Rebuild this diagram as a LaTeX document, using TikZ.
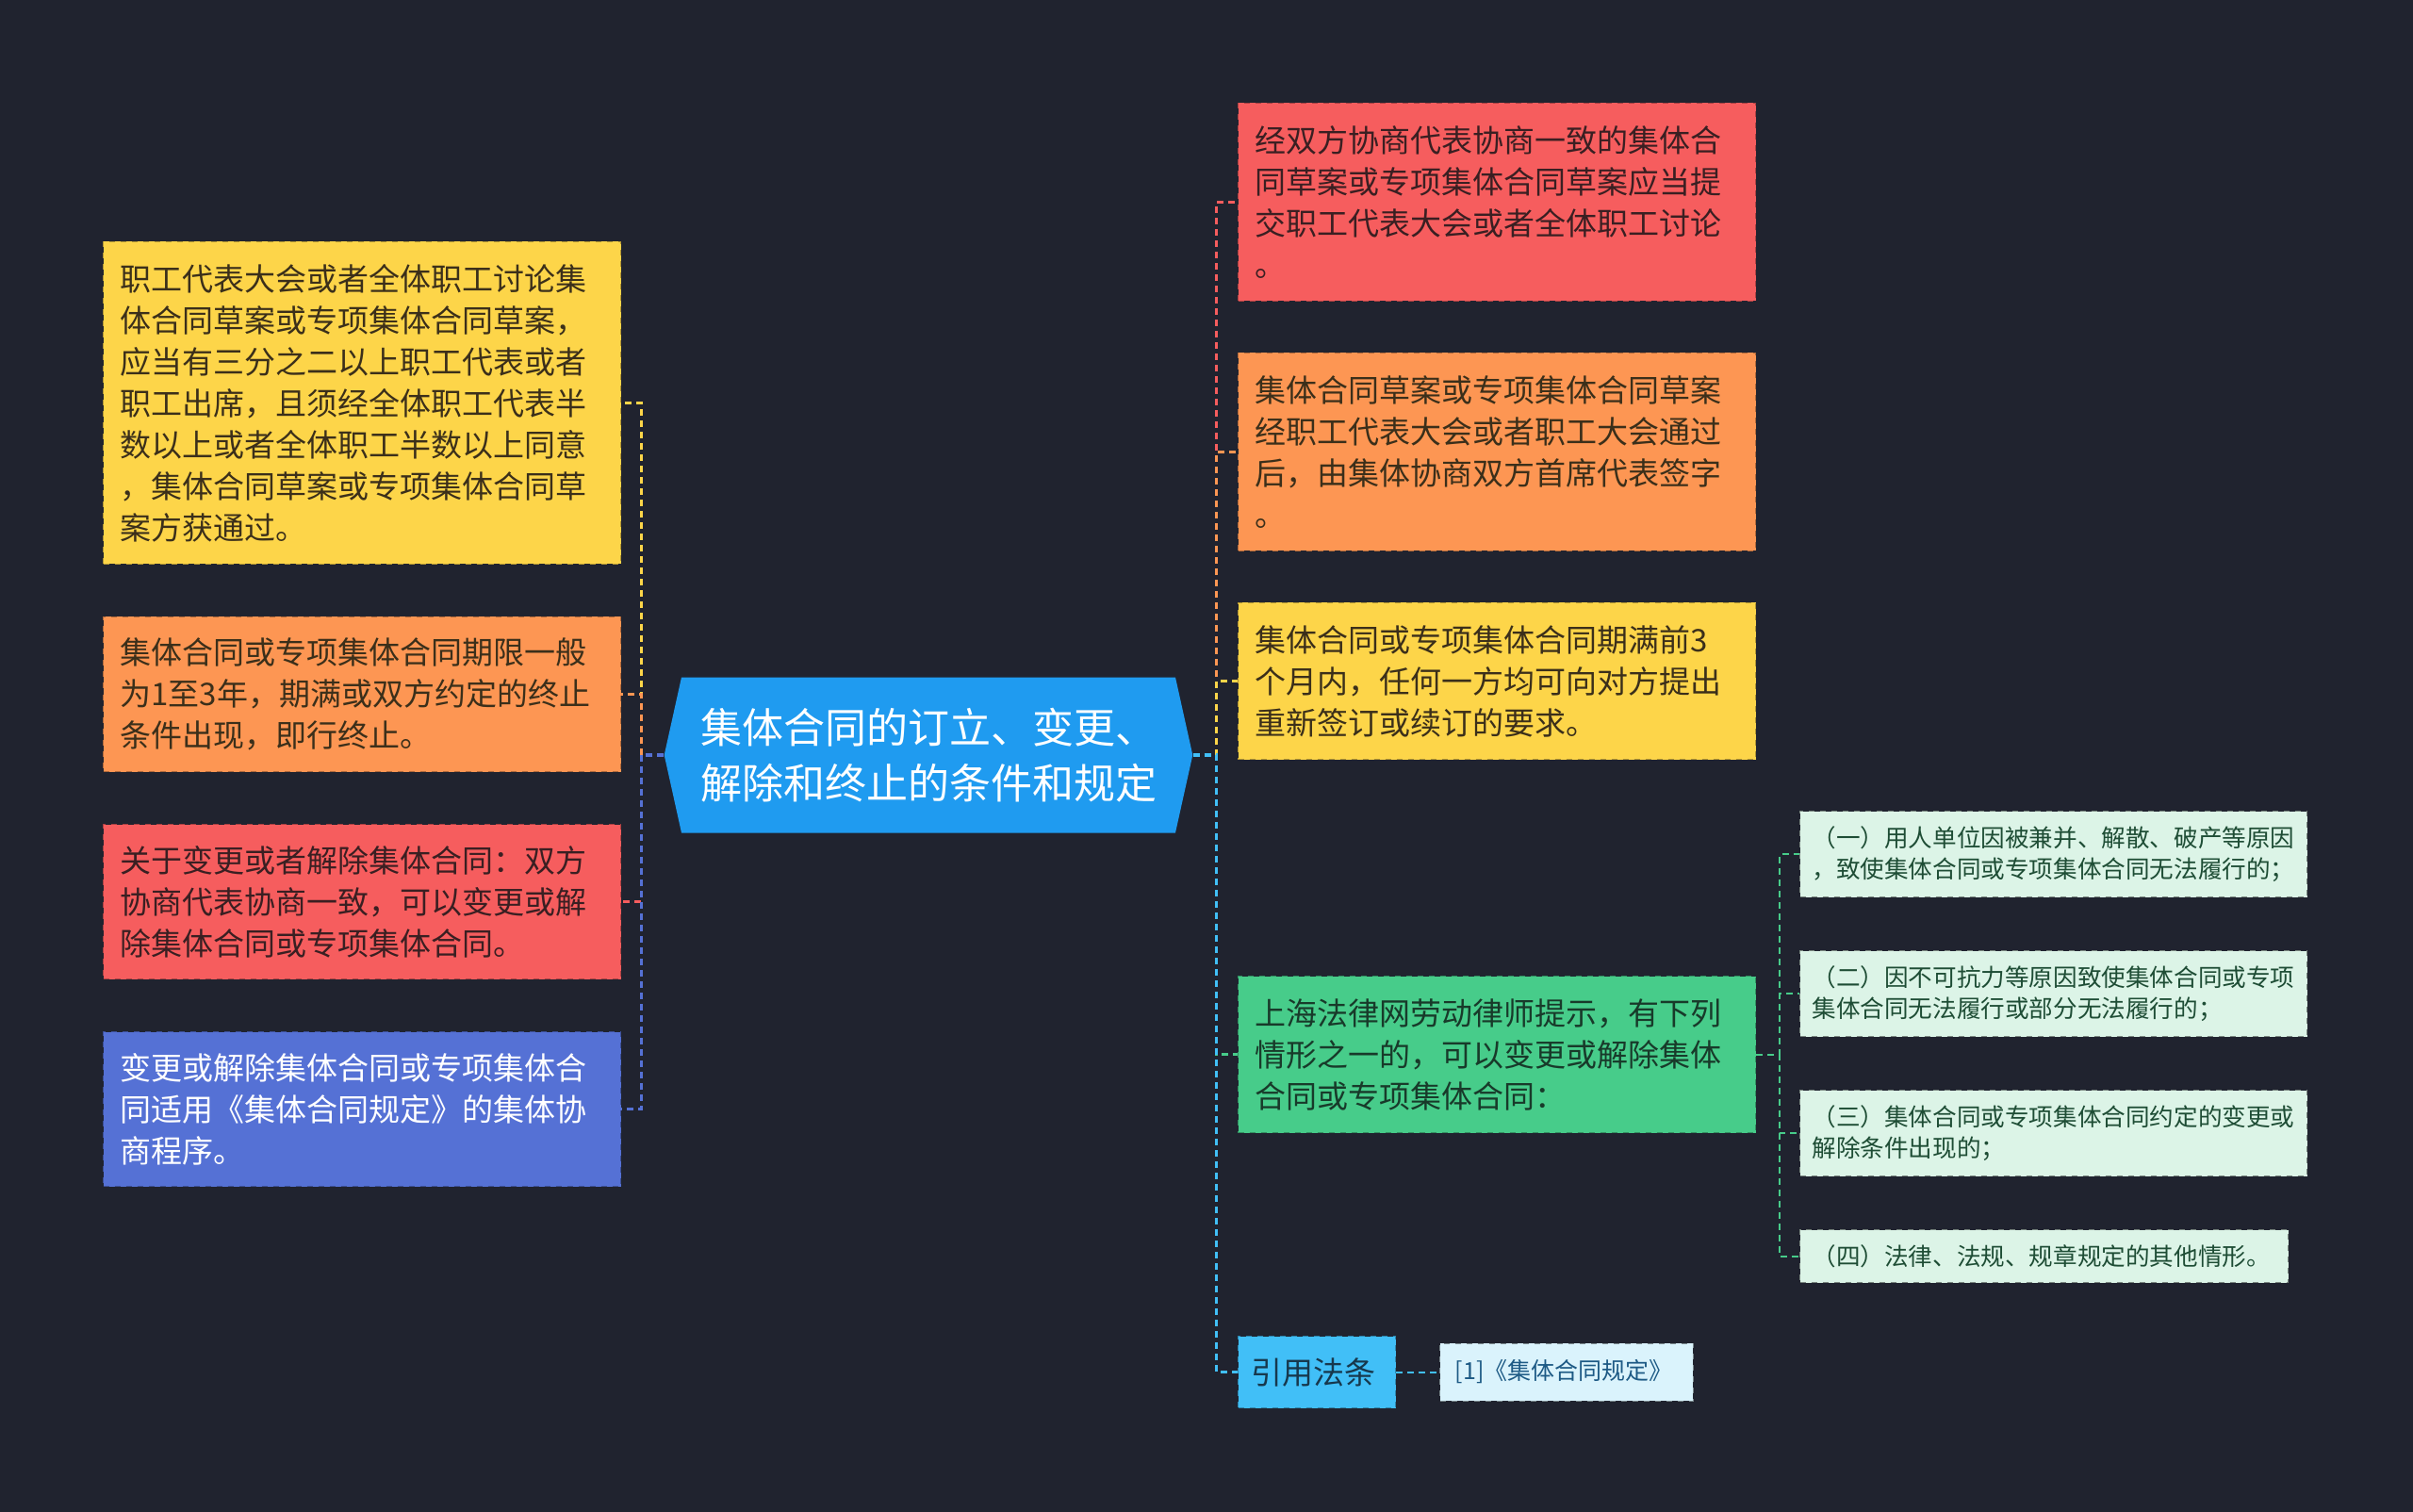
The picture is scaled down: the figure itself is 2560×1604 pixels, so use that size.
\documentclass[tikz,border=0pt]{standalone}
\usepackage{fontspec}
\setmainfont{Noto Sans CJK SC}
\usetikzlibrary{positioning,shapes.symbols}

\definecolor{bg}{HTML}{20232F}
\definecolor{cyel}{HTML}{FDD549}
\definecolor{cora}{HTML}{FD9653}
\definecolor{cred}{HTML}{F65D5E}
\definecolor{cpur}{HTML}{5571D5}
\definecolor{croot}{HTML}{1F9BF0}
\definecolor{cgrn}{HTML}{47CC8A}
\definecolor{csky}{HTML}{41BFF7}
\definecolor{cleaf}{HTML}{DCF4E7}
\definecolor{cref}{HTML}{DAF3FC}
\definecolor{tbrown}{HTML}{3B2F1A}
\definecolor{tred}{HTML}{3A1F22}
\definecolor{tgrn}{HTML}{183A2A}
\definecolor{tleaf}{HTML}{1E4D35}
\definecolor{tsky}{HTML}{17384D}
\definecolor{tref}{HTML}{1D5A85}

\begin{document}
\begin{tikzpicture}[x = 0.5pt, y = -0.5pt,
    every node/.style = { align = left, dashed, line width = .5pt },
    box/.style = { fill = #1, draw = #1!70!black, minimum width = 274.5pt, text width = 256.5pt,
                   inner xsep = 9pt, font = \fontsize{16.5pt}{22pt}\selectfont },
    leaf/.style = { fill = cleaf, draw = cleaf!55!black, text = tleaf, inner xsep = 6.5pt,
                    inner ysep = 8pt, font = \fontsize{12.8pt}{16.5pt}\selectfont },
    link/.style = { line width = 1.6pt, dash pattern = on 3.5pt off 2.5pt }
  ]
    \fill[bg] (0,0) rectangle (2560,1604);
    \useasboundingbox (0,0) rectangle (2560,1604);

    \node [signal, signal to = west and east, signal pointer angle = 155, fill = croot, text = white,
           minimum width = 280pt, minimum height = 82.5pt, inner xsep = 10pt,
           font = \fontsize{22pt}{29.5pt}\selectfont, solid] (root) at (985,801)
      { 集体合同的订立、变更、\\解除和终止的条件和规定 };

    % left side
    \node [box = cyel, text = tbrown, minimum height = 171pt, anchor = north west] (zhigong) at (109,256)
      { 职工代表大会或者全体职工讨论集\\体合同草案或专项集体合同草案，\\应当有三分之二以上职工代表或者\\职工出席，且须经全体职工代表半\\数以上或者全体职工半数以上同意\\，集体合同草案或专项集体合同草\\案方获通过。 };
    \node [box = cora, text = tbrown, minimum height = 82pt, below = 27.5pt of zhigong] (qixian)
      { 集体合同或专项集体合同期限一般\\为1至3年，期满或双方约定的终止\\条件出现，即行终止。 };
    \node [box = cred, text = tred, minimum height = 82pt, below = 27.5pt of qixian] (biangeng)
      { 关于变更或者解除集体合同：双方\\协商代表协商一致，可以变更或解\\除集体合同或专项集体合同。 };
    \node [box = cpur, text = white, minimum height = 82pt, below = 27.5pt of biangeng] (chengxu)
      { 变更或解除集体合同或专项集体合\\同适用《集体合同规定》的集体协\\商程序。 };

    % right side
    \node [box = cred, text = tred, minimum height = 105pt, anchor = north west] (taolun) at (1313,109)
      { 经双方协商代表协商一致的集体合\\同草案或专项集体合同草案应当提\\交职工代表大会或者全体职工讨论\\。 };
    \node [box = cora, text = tbrown, minimum height = 105pt, below = 27pt of taolun] (qianzi)
      { 集体合同草案或专项集体合同草案\\经职工代表大会或者职工大会通过\\后，由集体协商双方首席代表签字\\。 };
    \node [box = cyel, text = tbrown, minimum height = 83pt, below = 27pt of qianzi] (xuding)
      { 集体合同或专项集体合同期满前3\\个月内，任何一方均可向对方提出\\重新签订或续订的要求。 };
    \node [box = cgrn, text = tgrn, minimum height = 83pt, below = 114.5pt of xuding] (tishi)
      { 上海法律网劳动律师提示，有下列\\情形之一的，可以变更或解除集体\\合同或专项集体合同： };
    \node [fill = csky, draw = csky!70!black, text = tsky, inner xsep = 7pt, minimum height = 38pt,
           font = \fontsize{16.5pt}{22pt}\selectfont,
           below = 107.5pt of tishi.south west, anchor = north west] (yinyong) { 引用法条 };
    \node [fill = cref, draw = cref!55!black, text = tref, inner xsep = 8pt, minimum height = 30.5pt,
           font = \fontsize{12.5pt}{16pt}\selectfont, right = 23pt of yinyong] (guiding)
      { [1]《集体合同规定》 };

    % leaves of tishi
    \node [leaf, anchor = north west] (qing1) at (1909,860)
      { （一）用人单位因被兼并、解散、破产等原因\\，致使集体合同或专项集体合同无法履行的； };
    \node [leaf, below = 28pt of qing1.south west, anchor = north west] (qing2)
      { （二）因不可抗力等原因致使集体合同或专项\\集体合同无法履行或部分无法履行的； };
    \node [leaf, below = 28pt of qing2.south west, anchor = north west] (qing3)
      { （三）集体合同或专项集体合同约定的变更或\\解除条件出现的； };
    \node [leaf, below = 28pt of qing3.south west, anchor = north west] (qing4)
      { （四）法律、法规、规章规定的其他情形。 };

    % connectors
    \draw [link, cyel] (root.west) -- ++(-12pt,0) |- (zhigong.east);
    \draw [link, cora] (root.west) -- ++(-12pt,0) |- (qixian.east);
    \draw [link, cred] (root.west) -- ++(-12pt,0) |- (biangeng.east);
    \draw [link, cpur] (root.west) -- ++(-12pt,0) |- (chengxu.east);

    \draw [link, cred] (root.east) -- ++(12.5pt,0) |- (taolun.west);
    \draw [link, cora] (root.east) -- ++(12.5pt,0) |- (qianzi.west);
    \draw [link, cyel] (root.east) -- ++(12.5pt,0) |- (xuding.west);
    \draw [link, cgrn] (root.east) -- ++(12.5pt,0) |- (tishi.west);
    \draw [link, csky] (root.east) -- ++(12.5pt,0) |- (yinyong.west);

    \foreach \q in {qing1,qing2,qing3,qing4}
      \draw [link, cgrn, line width = 1pt] (tishi.east) -- ++(12.5pt,0) |- (\q.west);
    \draw [link, csky, line width = 1pt] (yinyong) -- (guiding);
\end{tikzpicture}
\end{document}
